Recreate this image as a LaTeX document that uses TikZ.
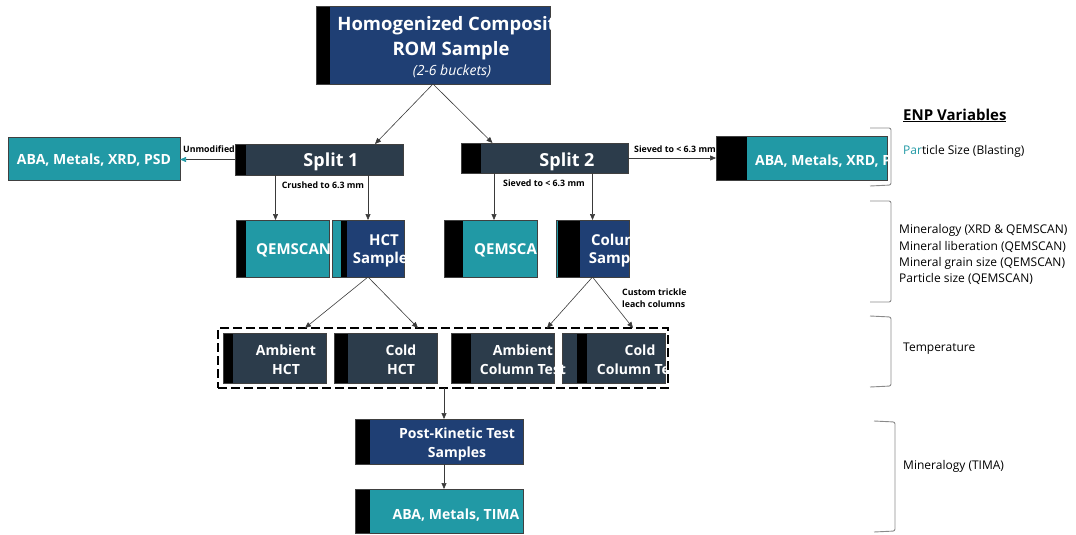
\documentclass[tikz,border=0pt]{standalone}
\usepackage{fontspec}
\setmainfont{Open Sans}
\usepackage{xcolor}
\definecolor{romblue}{HTML}{1F3F74}
\definecolor{assay}{HTML}{2199A5}
\definecolor{slate}{HTML}{2C3C4B}
\definecolor{flowline}{HTML}{3A3A3A}
\definecolor{bracket}{HTML}{8A8A8A}
\usetikzlibrary{arrows.meta}
\usetikzlibrary{calc}

\tikzset{
	stage/.style={draw=black!75, line width=0.5pt, inner sep=0pt, outer sep=0pt, anchor=north west},
	band/.style={path picture={\fill[black] (path picture bounding box.north west) rectangle ([xshift=#1]path picture bounding box.south west);}},
	twoband/.style n args={3}{path picture={
		\fill[#1] (path picture bounding box.north west) rectangle ([xshift=#2]path picture bounding box.south west);
		\fill[black] ([xshift=#2]path picture bounding box.north west) rectangle ([xshift=#2+#3]path picture bounding box.south west);}},
	lbl/.style={text=white, font=\bfseries\fontsize{14}{17}\selectfont, inner sep=0pt, anchor=base},
	mid/.style={lbl, font=\bfseries\fontsize{15}{18}\selectfont},
	big/.style={lbl, font=\bfseries\fontsize{18.5}{22}\selectfont},
	note/.style={font=\bfseries\fontsize{8.8}{11}\selectfont, inner sep=0pt, anchor=base},
	flow/.style={draw=flowline, line width=0.6pt, -{Triangle[length=6pt,width=5pt]}},
	enp/.style={font=\fontsize{12}{14}\selectfont, inner sep=0pt, anchor=base west},
	brace/.style={draw=bracket, line width=0.9pt, rounded corners=2pt},
}

\begin{document}
\begin{tikzpicture}[x=1pt, y=-1pt]
	\useasboundingbox (0,0) rectangle (1076,535);

	%draw boxes
	\node[stage, fill=romblue, band=14pt, minimum width=234pt, minimum height=78pt] (rom) at (316,6) {};
	\node[stage, fill=assay, minimum width=172pt, minimum height=43pt] (abaL) at (8,137) {};
	\node[stage, fill=slate, band=11pt, minimum width=168pt, minimum height=31pt] (split1) at (235,144) {};
	\node[stage, fill=slate, band=20pt, minimum width=167pt, minimum height=30pt] (split2) at (461,143) {};
	\node[stage, fill=assay, band=31pt, minimum width=171pt, minimum height=44pt] (abaR) at (716,136) {};
	\node[stage, fill=assay, band=10pt, minimum width=93pt, minimum height=57pt] (qemL) at (236,220) {};
	\node[stage, fill=romblue, twoband={assay}{9pt}{6pt}, minimum width=72pt, minimum height=57pt] (hct) at (332,220) {};
	\node[stage, fill=assay, band=19pt, minimum width=93pt, minimum height=57pt] (qemR) at (444,220) {};
	\node[stage, fill=romblue, twoband={assay}{2pt}{22pt}, minimum width=73pt, minimum height=57pt] (colS) at (556,220) {};

	%dashed group of kinetic tests
	\node[stage, draw=black, line width=1.6pt, dash pattern=on 9pt off 4pt, minimum width=450pt, minimum height=60pt] (grp) at (218,328) {};
	\node[stage, fill=slate, band=10pt, minimum width=103pt, minimum height=50pt] (ambH) at (223,333) {};
	\node[stage, fill=slate, band=14pt, minimum width=103pt, minimum height=50pt] (coldH) at (334,333) {};
	\node[stage, fill=slate, band=20pt, minimum width=103pt, minimum height=50pt] (ambC) at (451,333) {};
	\node[stage, fill=slate, twoband={slate}{15pt}{10pt}, minimum width=103pt, minimum height=50pt] (coldC) at (562,333) {};

	\node[stage, fill=romblue, band=15pt, minimum width=168pt, minimum height=45pt] (pk) at (355,419) {};
	\node[stage, fill=assay, band=15pt, minimum width=168pt, minimum height=44pt] (tima) at (355,489) {};

	%box texts
	\begin{scope}
		\clip (rom.north west) rectangle (rom.south east);
		\node[big] (romA) at (452,31) {Homogenized Composite};
	\end{scope}
	\node[big] (romB) at (451,56) {ROM Sample};
	\node[lbl, font=\itshape\fontsize{14}{16}\selectfont] (romC) at (452,76) {(2-6 buckets)};

	\node[lbl] (abaLt) at (94,164) {ABA, Metals, XRD, PSD};
	\node[big, font=\bfseries\fontsize{18}{22}\selectfont] (s1t) at (331,166) {Split 1};
	\node[big, font=\bfseries\fontsize{18}{22}\selectfont] (s2t) at (567,166) {Split 2};
	\begin{scope}
		\clip (abaR.north west) rectangle (abaR.south east);
		\node[lbl, anchor=base west] (abaRt) at (755,165) {ABA, Metals, XRD, PSD};
	\end{scope}

	\begin{scope}
		\clip (qemL.north west) rectangle (qemL.south east);
		\node[mid, anchor=base west] (qemLt) at (256,254) {QEMSCAN};
	\end{scope}
	\begin{scope}
		\clip (hct.north west) rectangle (hct.south east);
		\node[mid] (hctA) at (384,245) {HCT};
		\node[mid] (hctB) at (384,263) {Samples};
	\end{scope}
	\begin{scope}
		\clip (qemR.north west) rectangle (qemR.south east);
		\node[mid, anchor=base west] (qemRt) at (474,254) {QEMSCAN};
	\end{scope}
	\begin{scope}
		\clip (colS.north west) rectangle (colS.south east);
		\node[mid] (colA) at (620,245) {Column};
		\node[mid] (colB) at (620,263) {Samples};
	\end{scope}

	\node[lbl] (ambHA) at (286,355) {Ambient};
	\node[lbl] (ambHB) at (286,374) {HCT};
	\node[lbl] (coldHA) at (401,355) {Cold};
	\node[lbl] (coldHB) at (401,374) {HCT};
	\begin{scope}
		\clip (coldC.north west) rectangle (coldC.south east);
		\node[lbl] (coldCA) at (640,355) {Cold};
		\node[lbl] (coldCB) at (640,374) {Column Test};
	\end{scope}
	\node[lbl] (ambCA) at (523,355) {Ambient};
	\node[lbl] (ambCB) at (523,374) {Column Test};

	\node[lbl] (pkA) at (457,438) {Post-Kinetic Test};
	\node[lbl] (pkB) at (457,457) {Samples};
	\node[lbl] (timat) at (456,519) {ABA, Metals, TIMA};

	%arrows
	\draw[flow] (rom.south) -- ([xshift=56pt]split1.north);
	\draw[flow] (rom.south) -- ([xshift=-52pt]split2.north);
	\draw[draw=flowline, line width=0.6pt, -{Triangle[length=6pt,width=5pt,color=assay]}] (split1.west) -- (split1.west -| abaL.east);
	\draw[flow] (split2.east) -- (split2.east -| abaR.west);
	\draw[flow] ([xshift=-7pt]qemL.north |- split1.south) -- ([xshift=-7pt]qemL.north);
	\draw[flow] (hct.north |- split1.south) -- (hct.north);
	\draw[flow] ([xshift=3.5pt]qemR.north |- split2.south) -- ([xshift=3.5pt]qemR.north);
	\draw[flow] (colS.north |- split2.south) -- (colS.north);
	\draw[flow] (hct.south) -- ([xshift=-138pt]grp.north);
	\draw[flow] (hct.south) -- ([xshift=-25pt]grp.north);
	\draw[flow] (colS.south) -- ([xshift=104pt]grp.north);
	\draw[flow] (colS.south) -- ([xshift=190pt]grp.north);
	\draw[flow] ([xshift=1pt]grp.south) -- ([xshift=1pt]grp.south |- pk.north);
	\draw[flow] ([xshift=1pt]grp.south |- pk.south) -- ([xshift=1pt]grp.south |- tima.north);

	%arrow notes
	\node[note, anchor=base east] (unmod) at (235,152) {Unmodified};
	\node[note] (crush) at (323,188) {Crushed to 6.3 mm};
	\node[note, anchor=base west] (sieveR) at (634,152) {Sieved to < 6.3 mm};
	\node[note] (sieveD) at (544,186) {Sieved to < 6.3 mm};
	\node[note, anchor=base west] (trickA) at (622,295) {Custom trickle};
	\node[note, anchor=base west] (trickB) at (622,307) {leach columns};

	%enp variables
	\node[enp, font=\bfseries\fontsize{15}{18}\selectfont] (enpT) at (903,120) {\underline{ENP Variables}};
	\node[enp] (v1) at (903,154) {{\color{assay}Par}ticle Size (Blasting)};
	\node[enp] (v2) at (899,233) {Mineralogy (XRD \& QEMSCAN)};
	\node[enp] (v3) at (899,250) {Mineral liberation (QEMSCAN)};
	\node[enp] (v4) at (899,266) {Mineral grain size (QEMSCAN)};
	\node[enp] (v5) at (899,282) {Particle size (QEMSCAN)};
	\node[enp] (v6) at (903,351) {Temperature};
	\node[enp] (v7) at (903,469) {Mineralogy (TIMA)};

	\draw[brace] (870,128) -- (891,128) -- (891,185) -- (870,186);
	\draw[brace] (870,201) -- (891,201) -- (891,302) -- (870,302);
	\draw[brace] (870,316) -- (891,317) -- (891,386) -- (870,387);
	\draw[brace] (874,421) -- (895,422) -- (895,531) -- (874,532);
\end{tikzpicture}
\end{document}
